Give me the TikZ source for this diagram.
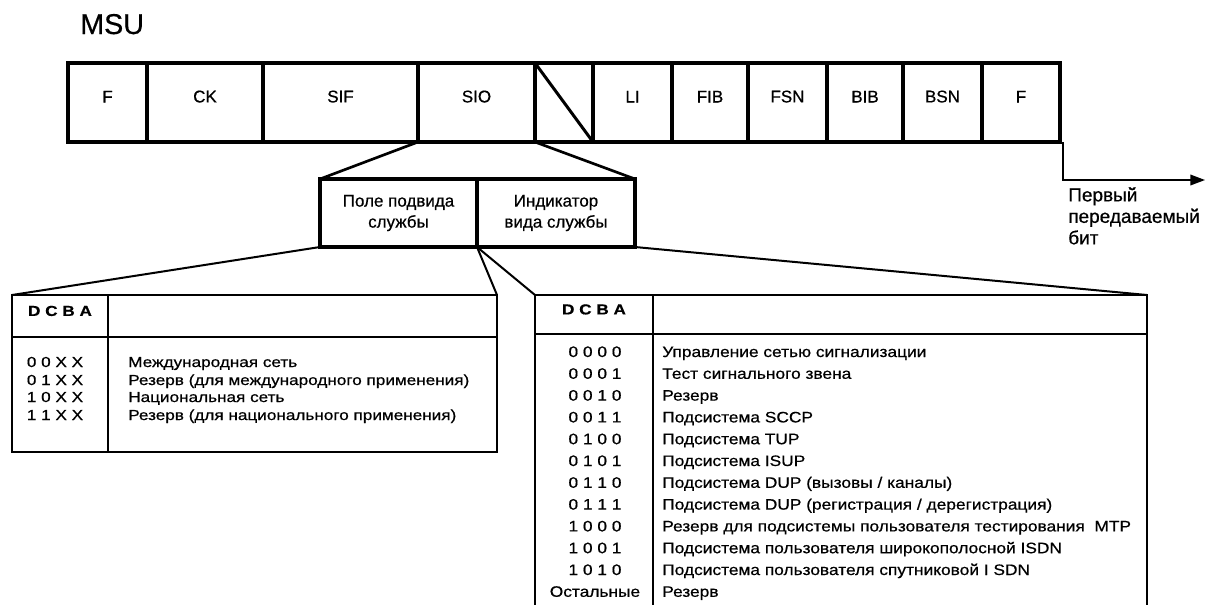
\documentclass[tikz,border=0pt]{standalone}
\usepackage{fontspec}
\setmainfont{Liberation Sans}[RawFeature={embolden=0.6}]
\newfontfamily\tabfont{Liberation Sans}[FakeStretch=1.18, RawFeature={embolden=0.6}]
\newfontfamily\rtabfont{Liberation Sans}[FakeStretch=1.14, RawFeature={embolden=0.6}]
\usetikzlibrary{fit,arrows.meta}
\begin{document}
\begin{tikzpicture}[x=0.75pt,y=-0.75pt,
  cell/.style={draw, line width=3pt, inner sep=0pt, outer sep=0pt,
    font=\fontsize{12.75}{15}\selectfont},
  subcell/.style={draw, line width=3pt, inner sep=0pt, outer sep=0pt},
  subtext/.style={align=center, font=\fontsize{12.75}{15.75}\selectfont},
  tcell/.style={draw, line width=1.6pt, inner sep=0pt, outer sep=0pt,
    font=\tabfont\bfseries\fontsize{10.9}{12}\selectfont},
  code/.style={anchor=base, inner sep=0pt, font=\tabfont\fontsize{10.9}{12}\selectfont},
  desc/.style={anchor=base west, inner sep=0pt, font=\tabfont\fontsize{10.9}{12}\selectfont},
  rcode/.style={anchor=base, inner sep=0pt, font=\rtabfont\fontsize{11.4}{12}\selectfont},
  rdesc/.style={anchor=base west, inner sep=0pt, font=\rtabfont\fontsize{11.4}{12}\selectfont},
  zoomline/.style={line width=2pt},
  tabline/.style={line width=1.5pt},
  bitarrow/.style={line width=1.1pt, -{Triangle[length=11pt,width=8pt]}}
]
\useasboundingbox (0,0) rectangle (1212,604);

% title
\node[anchor=base west, inner sep=0pt, font=\fontsize{21.5}{24}\selectfont] (msu) at (80,34) {MSU};

% MSU fields
\node[cell, fit={(68,63) (147,142)}]   (f1)  {F};
\node[cell, fit={(147,63) (263,142)}]  (ck)  {CK};
\node[cell, fit={(263,63) (418,142)}]  (sif) {SIF};
\node[cell, fit={(418,63) (535,142)}]  (sio) {SIO};
\node[cell, fit={(535,63) (593,142)}]  (sl)  {};
\node[cell, fit={(593,63) (672,142)}]  (li)  {LI};
\node[cell, fit={(672,63) (748,142)}]  (fib) {FIB};
\node[cell, fit={(748,63) (827,142)}]  (fsn) {FSN};
\node[cell, fit={(827,63) (903,142)}]  (bib) {BIB};
\node[cell, fit={(903,63) (982,142)}]  (bsn) {BSN};
\node[cell, fit={(982,63) (1060,142)}] (f2)  {F};
\draw[line width=2.25pt] (sl.north west) -- (sl.south east);

% first transmitted bit
\coordinate (tip) at (1205,180);
\draw[bitarrow] ([xshift=2.25pt]f2.south east) |- (tip);
\node[anchor=north west, inner sep=0pt, align=left,
  font=\fontsize{14.25}{16.1}\selectfont] (bittxt) at (1068,187)
  {Первый\\передаваемый\\бит};

% SIO octet
\node[subcell, fit={(320,179) (477,247)}] (sub1) {};
\node[subcell, fit={(477,179) (635,247)}] (sub2) {};
\node[subtext] (sub1t) at (sub1.center) {Поле подвида\\службы};
\node[subtext] (sub2t) at (sub2.center) {Индикатор\\вида службы};
\draw[zoomline] (sio.south west) -- (sub1.north west);
\draw[zoomline] (sio.south east) -- (sub2.north east);

% subservice field table
\node[tcell, fit={(12,295) (108,337)}]  (lth1) {D C B A};
\node[tcell, fit={(108,295) (497,337)}] (lth2) {};
\node[tcell, fit={(12,337) (108,452)}]  (ltb1) {};
\node[tcell, fit={(108,337) (497,452)}] (ltb2) {};
\draw[tabline] (sub1.south west) -- (lth1.north west);
\draw[tabline] (sub1.south east) -- (lth2.north east);

\node[code] (lc1) at (55,367) {0 0 X X};
\node[code] (lc2) at (55,385) {0 1 X X};
\node[code] (lc3) at (55,402) {1 0 X X};
\node[code] (lc4) at (55,420) {1 1 X X};
\node[desc] (ld1) at (128,367) {Международная сеть};
\node[desc] (ld2) at (128,385) {Резерв (для международного применения)};
\node[desc] (ld3) at (128,402) {Национальная сеть};
\node[desc] (ld4) at (128,420) {Резерв (для национального применения)};

% service indicator table (runs on below the lower edge)
\node[tcell, fit={(535,295) (653,334)}]  (rth1) {D C B A};
\node[tcell, fit={(653,295) (1147,334)}] (rth2) {};
\node[tcell, fit={(535,334) (653,612)}]  (rtb1) {};
\node[tcell, fit={(653,334) (1147,612)}] (rtb2) {};
\draw[tabline] (sub1.south east) -- (rth1.north west);
\draw[tabline] (sub2.south east) -- (rth2.north east);

\node[rcode] (rc1)  at (595,357.0) {0 0 0 0};
\node[rcode] (rc2)  at (595,378.8) {0 0 0 1};
\node[rcode] (rc3)  at (595,400.6) {0 0 1 0};
\node[rcode] (rc4)  at (595,422.4) {0 0 1 1};
\node[rcode] (rc5)  at (595,444.2) {0 1 0 0};
\node[rcode] (rc6)  at (595,466.0) {0 1 0 1};
\node[rcode] (rc7)  at (595,487.8) {0 1 1 0};
\node[rcode] (rc8)  at (595,509.6) {0 1 1 1};
\node[rcode] (rc9)  at (595,531.4) {1 0 0 0};
\node[rcode] (rc10) at (595,553.2) {1 0 0 1};
\node[rcode] (rc11) at (595,575.0) {1 0 1 0};
\node[rcode] (rc12) at (595,596.8) {Остальные};
\node[rdesc] (rd1)  at (662,357.0) {Управление сетью сигнализации};
\node[rdesc] (rd2)  at (662,378.8) {Тест сигнального звена};
\node[rdesc] (rd3)  at (662,400.6) {Резерв};
\node[rdesc] (rd4)  at (662,422.4) {Подсистема SCCP};
\node[rdesc] (rd5)  at (662,444.2) {Подсистема TUP};
\node[rdesc] (rd6)  at (662,466.0) {Подсистема ISUP};
\node[rdesc] (rd7)  at (662,487.8) {Подсистема DUP (вызовы / каналы)};
\node[rdesc] (rd8)  at (662,509.6) {Подсистема DUP (регистрация / дерегистрация)};
\node[rdesc] (rd9)  at (662,531.4) {Резерв для подсистемы пользователя тестирования\ \ MTP};
\node[rdesc] (rd10) at (662,553.2) {Подсистема пользователя широкополосной ISDN};
\node[rdesc] (rd11) at (662,575.0) {Подсистема пользователя спутниковой I SDN};
\node[rdesc] (rd12) at (662,596.8) {Резерв};
\end{tikzpicture}
\end{document}
